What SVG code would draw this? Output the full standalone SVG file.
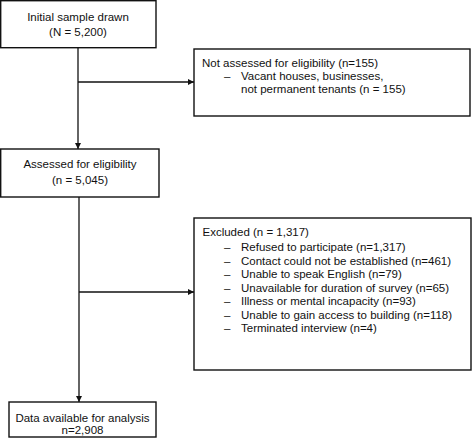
<svg xmlns="http://www.w3.org/2000/svg" width="473" height="445" viewBox="0 0 473 445">
  <defs>
    <style>
      .box { fill: #ffffff; stroke: #111111; stroke-width: 1.4; }
      .t { font-family: "Liberation Sans", Arial, sans-serif; font-size: 11.5px; fill: #111111; }
      .c { text-anchor: middle; }
      .line { fill: none; stroke: #111111; stroke-width: 1.3; }
    </style>
    <marker id="arrow" viewBox="0 0 10 10" refX="10" refY="5" markerWidth="6" markerHeight="6" markerUnits="userSpaceOnUse" orient="auto">
      <path d="M0,0 L10,5 L0,10 Z" fill="#111111"/>
    </marker>
  </defs>
  <rect width="473" height="445" fill="#ffffff"/>

  <g id="connectors">
    <line class="line" x1="78" y1="48" x2="78" y2="149" marker-end="url(#arrow)"/>
    <line class="line" x1="78" y1="82" x2="194" y2="82" marker-end="url(#arrow)"/>
    <line class="line" x1="79" y1="197" x2="79" y2="402" marker-end="url(#arrow)"/>
    <line class="line" x1="79" y1="292" x2="194" y2="292" marker-end="url(#arrow)"/>
  </g>

  <g id="initial-sample">
    <rect class="box" x="0.7" y="0.7" width="155.3" height="47"/>
    <text class="t c" x="78" y="20.5">Initial sample drawn</text>
    <text class="t c" x="78" y="36">(N = 5,200)</text>
  </g>

  <g id="not-assessed">
    <rect class="box" x="194" y="49" width="276" height="67"/>
    <text class="t" x="202" y="67">Not assessed for eligibility (n=155)</text>
    <text class="t" x="224" y="80">–</text>
    <text class="t" x="241" y="80">Vacant houses, businesses,</text>
    <text class="t" x="241" y="93">not permanent tenants (n = 155)</text>
  </g>

  <g id="assessed">
    <rect class="box" x="0.7" y="149" width="158.3" height="48"/>
    <text class="t c" x="80" y="168">Assessed for eligibility</text>
    <text class="t c" x="80" y="184">(n = 5,045)</text>
  </g>

  <g id="excluded">
    <rect class="box" x="194" y="218" width="277" height="152"/>
    <text class="t" x="202.5" y="236">Excluded (n = 1,317)</text>
    <g class="t">
      <text x="224" y="251">–</text>
      <text x="241" y="251">Refused to participate (n=1,317)</text>
      <text x="224" y="264.5">–</text>
      <text x="241" y="264.5">Contact could not be established (n=461)</text>
      <text x="224" y="278">–</text>
      <text x="241" y="278">Unable to speak English (n=79)</text>
      <text x="224" y="291.5">–</text>
      <text x="241" y="291.5">Unavailable for duration of survey (n=65)</text>
      <text x="224" y="305">–</text>
      <text x="241" y="305">Illness or mental incapacity (n=93)</text>
      <text x="224" y="318.5">–</text>
      <text x="241" y="318.5">Unable to gain access to building (n=118)</text>
      <text x="224" y="332">–</text>
      <text x="241" y="332">Terminated interview (n=4)</text>
    </g>
  </g>

  <g id="data-available">
    <rect class="box" x="9" y="402" width="147" height="35"/>
    <text class="t c" x="82.5" y="422">Data available for analysis</text>
    <text class="t c" x="82.5" y="434">n=2,908</text>
  </g>
</svg>
